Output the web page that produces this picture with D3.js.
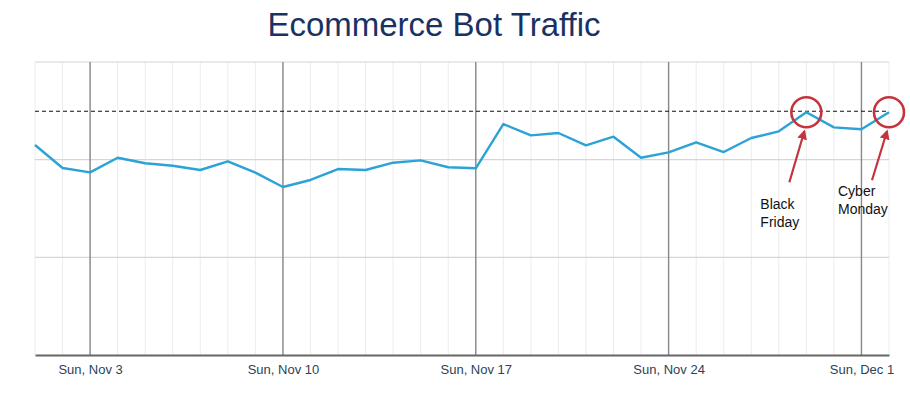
<!DOCTYPE html>
<html>
<head>
<meta charset="utf-8">
<script src="https://cdn.jsdelivr.net/npm/d3@7"></script>
<style>
  html, body { margin: 0; padding: 0; background: #fff; }
  svg { display: block; font-family: "Liberation Sans", Arial, sans-serif; }
</style>
</head>
<body>
<svg id="chart" width="910" height="398"></svg>
<script>
// ---- data ----
const title = "Ecommerce Bot Traffic";
const dates = [
  "2019-11-01","2019-11-02","2019-11-03","2019-11-04","2019-11-05","2019-11-06","2019-11-07",
  "2019-11-08","2019-11-09","2019-11-10","2019-11-11","2019-11-12","2019-11-13","2019-11-14",
  "2019-11-15","2019-11-16","2019-11-17","2019-11-18","2019-11-19","2019-11-20","2019-11-21",
  "2019-11-22","2019-11-23","2019-11-24","2019-11-25","2019-11-26","2019-11-27","2019-11-28",
  "2019-11-29","2019-11-30","2019-12-01","2019-12-02"
];
const traffic = [
  215, 191.5, 187, 202, 196.3, 193.8, 189.4,
  198.3, 186.7, 172, 179.2, 190.4, 189.4, 196.9,
  199.3, 192.2, 191.2, 236.5, 224.9, 227.3, 214.7,
  223.5, 202, 207.5, 217.8, 207.8, 222.2, 229,
  248.5, 233.1, 231.1, 248.5
];
const yTicks = [0, 100, 200, 300];
const referenceLevel = 249.5;
const annotationDates = ["2019-11-29", "2019-12-02"];
const annotationLabels = [["Black", "Friday"], ["Cyber", "Monday"]];

(function () {
// ---- setup ----
const parse = d3.utcParse("%Y-%m-%d");
const data = dates.map((d, i) => ({ date: parse(d), value: traffic[i] }));

const svg = d3.select("#chart");
const mLeft = 35, mRight = 889, mTop = 62, mBottom = 355;

const x = d3.scaleUtc()
  .domain(d3.extent(data, d => d.date))
  .range([mLeft, mRight]);
const y = d3.scaleLinear()
  .domain([0, 300])
  .range([mBottom, mTop]);

// title
svg.append("text")
  .attr("x", 434).attr("y", 36)
  .attr("text-anchor", "middle")
  .attr("font-size", 33)
  .attr("fill", "#1a3263")
  .text(title);

// daily light vertical grid
const days = d3.utcDay.range(x.domain()[0], d3.utcDay.offset(x.domain()[1], 1));
svg.append("g").selectAll("line").data(days).join("line")
  .attr("x1", d => x(d)).attr("x2", d => x(d))
  .attr("y1", mTop).attr("y2", mBottom)
  .attr("stroke", "#ececec").attr("stroke-width", 1);

// horizontal grid
svg.append("g").selectAll("line").data(yTicks.filter(t => t > 0)).join("line")
  .attr("x1", mLeft).attr("x2", mRight)
  .attr("y1", d => y(d)).attr("y2", d => y(d))
  .attr("stroke", "#d6d6d6").attr("stroke-width", 1.2);

// Sunday dark vertical grid
const sundays = d3.utcSunday.range(x.domain()[0], d3.utcDay.offset(x.domain()[1], 1));
svg.append("g").selectAll("line").data(sundays).join("line")
  .attr("x1", d => x(d)).attr("x2", d => x(d))
  .attr("y1", mTop).attr("y2", mBottom)
  .attr("stroke", "#888").attr("stroke-width", 1.4);

// reference dashed line
svg.append("line")
  .attr("x1", mLeft).attr("x2", mRight)
  .attr("y1", y(referenceLevel)).attr("y2", y(referenceLevel))
  .attr("stroke", "#111").attr("stroke-width", 1.1)
  .attr("stroke-dasharray", "4,3");

// x axis
const xAxis = d3.axisBottom(x)
  .tickValues(sundays)
  .tickFormat(d3.utcFormat("%a, %b %-d"))
  .tickSize(0)
  .tickPadding(10);
const gx = svg.append("g").attr("transform", `translate(0,${mBottom})`).call(xAxis);
gx.select(".domain").attr("stroke", "#666").attr("stroke-width", 1.8);
gx.selectAll("text")
  .attr("font-size", 13)
  .attr("fill", "#2e3f58")
  .attr("font-family", "Liberation Sans, Arial, sans-serif");

// line
svg.append("path")
  .datum(data)
  .attr("fill", "none")
  .attr("stroke", "#2ba3d6")
  .attr("stroke-width", 2.4)
  .attr("stroke-linejoin", "round")
  .attr("d", d3.line().x(d => x(d.date)).y(d => y(d.value)));

// annotations
const red = "#c4343e";
const defs = svg.append("defs");
defs.append("marker")
  .attr("id", "arrow")
  .attr("viewBox", "0 0 10 10")
  .attr("refX", 8).attr("refY", 5)
  .attr("markerWidth", 4.5).attr("markerHeight", 4.5)
  .attr("orient", "auto")
  .attr("markerUnits", "strokeWidth")
  .append("path").attr("d", "M0,0 L10,5 L0,10 z").attr("fill", red);

const annData = annotationDates.map((d, i) => {
  const dt = parse(d);
  const pt = data.find(p => +p.date === +dt);
  return { date: dt, value: pt.value, label: annotationLabels[i] };
});
const ann = svg.append("g");
annData.forEach((a, i) => {
  const cx = x(a.date), cy = y(a.value);
  ann.append("circle")
    .attr("cx", cx).attr("cy", cy).attr("r", 15)
    .attr("fill", "none").attr("stroke", red).attr("stroke-width", 2.6);
  const ty = i === 0 ? 70 : 68;
  ann.append("line")
    .attr("x1", cx - 17).attr("y1", cy + ty)
    .attr("x2", cx - 2).attr("y2", cy + 19)
    .attr("stroke", red).attr("stroke-width", 2.2)
    .attr("marker-end", "url(#arrow)");
  const lx = i === 0 ? cx - 46 : cx - 51;
  const ly = i === 0 ? 209 : 196;
  const t = ann.append("text")
    .attr("x", lx).attr("y", ly)
    .attr("font-size", 14).attr("fill", "#111");
  a.label.forEach((s, k) => {
    t.append("tspan").attr("x", lx).attr("dy", k === 0 ? 0 : 17.5).text(s);
  });
});
})();
</script>
</body>
</html>
